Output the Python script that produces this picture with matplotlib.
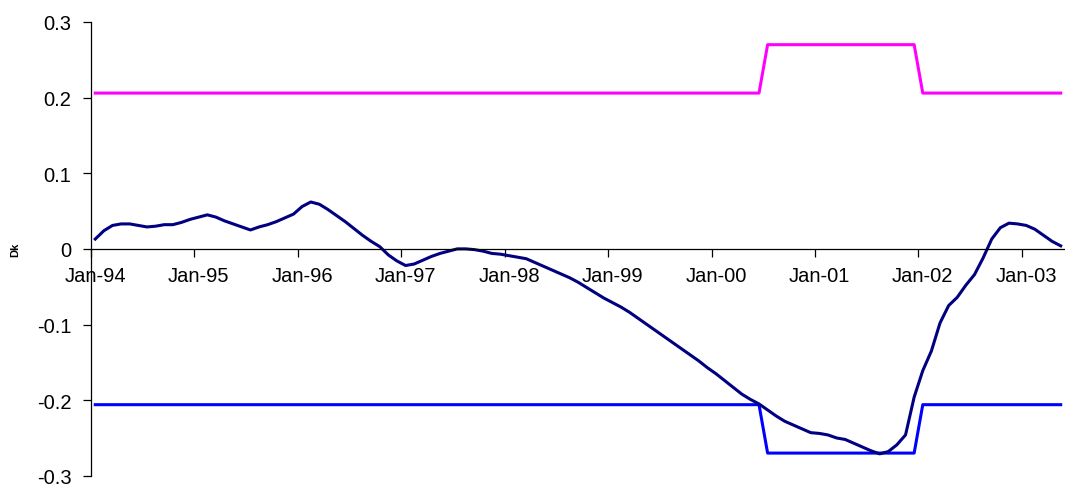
import numpy as np
import matplotlib
matplotlib.use("Agg")
import matplotlib.pyplot as plt
from matplotlib.ticker import FixedLocator, FormatStrFormatter

plt.rcParams['font.family'] = ['Liberation Sans', 'DejaVu Sans']
plt.rcParams['axes.unicode_minus'] = False

# monthly series, Jan-94 .. May-03
dk = [0.013, 0.024, 0.031, 0.033, 0.033, 0.031, 0.029, 0.030, 0.032, 0.032,
      0.035, 0.039, 0.042, 0.045, 0.042, 0.037, 0.033, 0.029, 0.025, 0.029,
      0.032, 0.036, 0.041, 0.046, 0.056, 0.062, 0.059, 0.052, 0.044, 0.036,
      0.027, 0.018, 0.010, 0.003, -0.008, -0.016, -0.022, -0.020, -0.015, -0.010,
      -0.006, -0.003, 0.000, 0.000, -0.001, -0.003, -0.006, -0.007, -0.009, -0.011,
      -0.013, -0.018, -0.023, -0.028, -0.033, -0.038, -0.044, -0.051, -0.058, -0.065,
      -0.071, -0.077, -0.084, -0.092, -0.100, -0.108, -0.116, -0.124, -0.132, -0.140,
      -0.148, -0.157, -0.165, -0.174, -0.183, -0.192, -0.199, -0.205, -0.213, -0.221,
      -0.228, -0.233, -0.238, -0.243, -0.244, -0.246, -0.250, -0.252, -0.257, -0.262,
      -0.267, -0.271, -0.268, -0.259, -0.246, -0.196, -0.161, -0.135, -0.098, -0.075,
      -0.064, -0.048, -0.034, -0.012, 0.013, 0.028, 0.034, 0.033, 0.031, 0.026,
      0.018, 0.010, 0.004]

# control limits: wider between Jul-00 and Dec-01
limite_normale = 0.206
limite_large = 0.270
debut_large = 78   # Jul-00
fin_large = 95     # Dec-01

annees = ['Jan-94', 'Jan-95', 'Jan-96', 'Jan-97', 'Jan-98',
          'Jan-99', 'Jan-00', 'Jan-01', 'Jan-02', 'Jan-03']

n = len(dk)
mois = np.arange(n)
haut = np.where((mois >= debut_large) & (mois <= fin_large), limite_large, limite_normale)
bas = -haut

fig = plt.figure(figsize=(10.65, 4.89), dpi=100)
ax = fig.add_axes([0.0854, 0.025, 0.9146, 0.928])

lw = 2.2
ax.plot(mois, haut, color='#FF00FF', linewidth=lw)
ax.plot(mois, bas, color='#0000FF', linewidth=lw)
ax.plot(mois, dk, color='#000080', linewidth=lw)

ax.set_xlim(-0.5, n - 0.5)
ax.set_ylim(-0.3, 0.3)

# axes style (Excel-like): y axis on left, x axis crossing at zero
ax.spines['top'].set_visible(False)
ax.spines['right'].set_visible(False)
ax.spines['bottom'].set_position(('data', 0))
for s in ('left', 'bottom'):
    ax.spines[s].set_linewidth(0.9)
    ax.spines[s].set_color('black')

ax.set_yticks([-0.3, -0.2, -0.1, 0, 0.1, 0.2, 0.3])
ax.yaxis.set_major_formatter(FormatStrFormatter('%g'))
ax.tick_params(axis='y', direction='out', length=6, width=0.9, pad=8, labelsize=14.5)

pos_labels = [12 * k for k in range(len(annees))]
ax.xaxis.set_major_locator(FixedLocator(pos_labels))
ax.set_xticklabels(annees)
ax.xaxis.set_minor_locator(FixedLocator([p - 0.5 for p in pos_labels]))
ax.tick_params(axis='x', which='major', length=0, pad=12, labelsize=14.5)
ax.tick_params(axis='x', which='minor', direction='out', length=6, width=0.9)

fig.text(0.014, 0.49, 'Dk', rotation=90, fontsize=8, fontweight='bold',
         ha='center', va='center')

fig.savefig('out.png', dpi=100)
